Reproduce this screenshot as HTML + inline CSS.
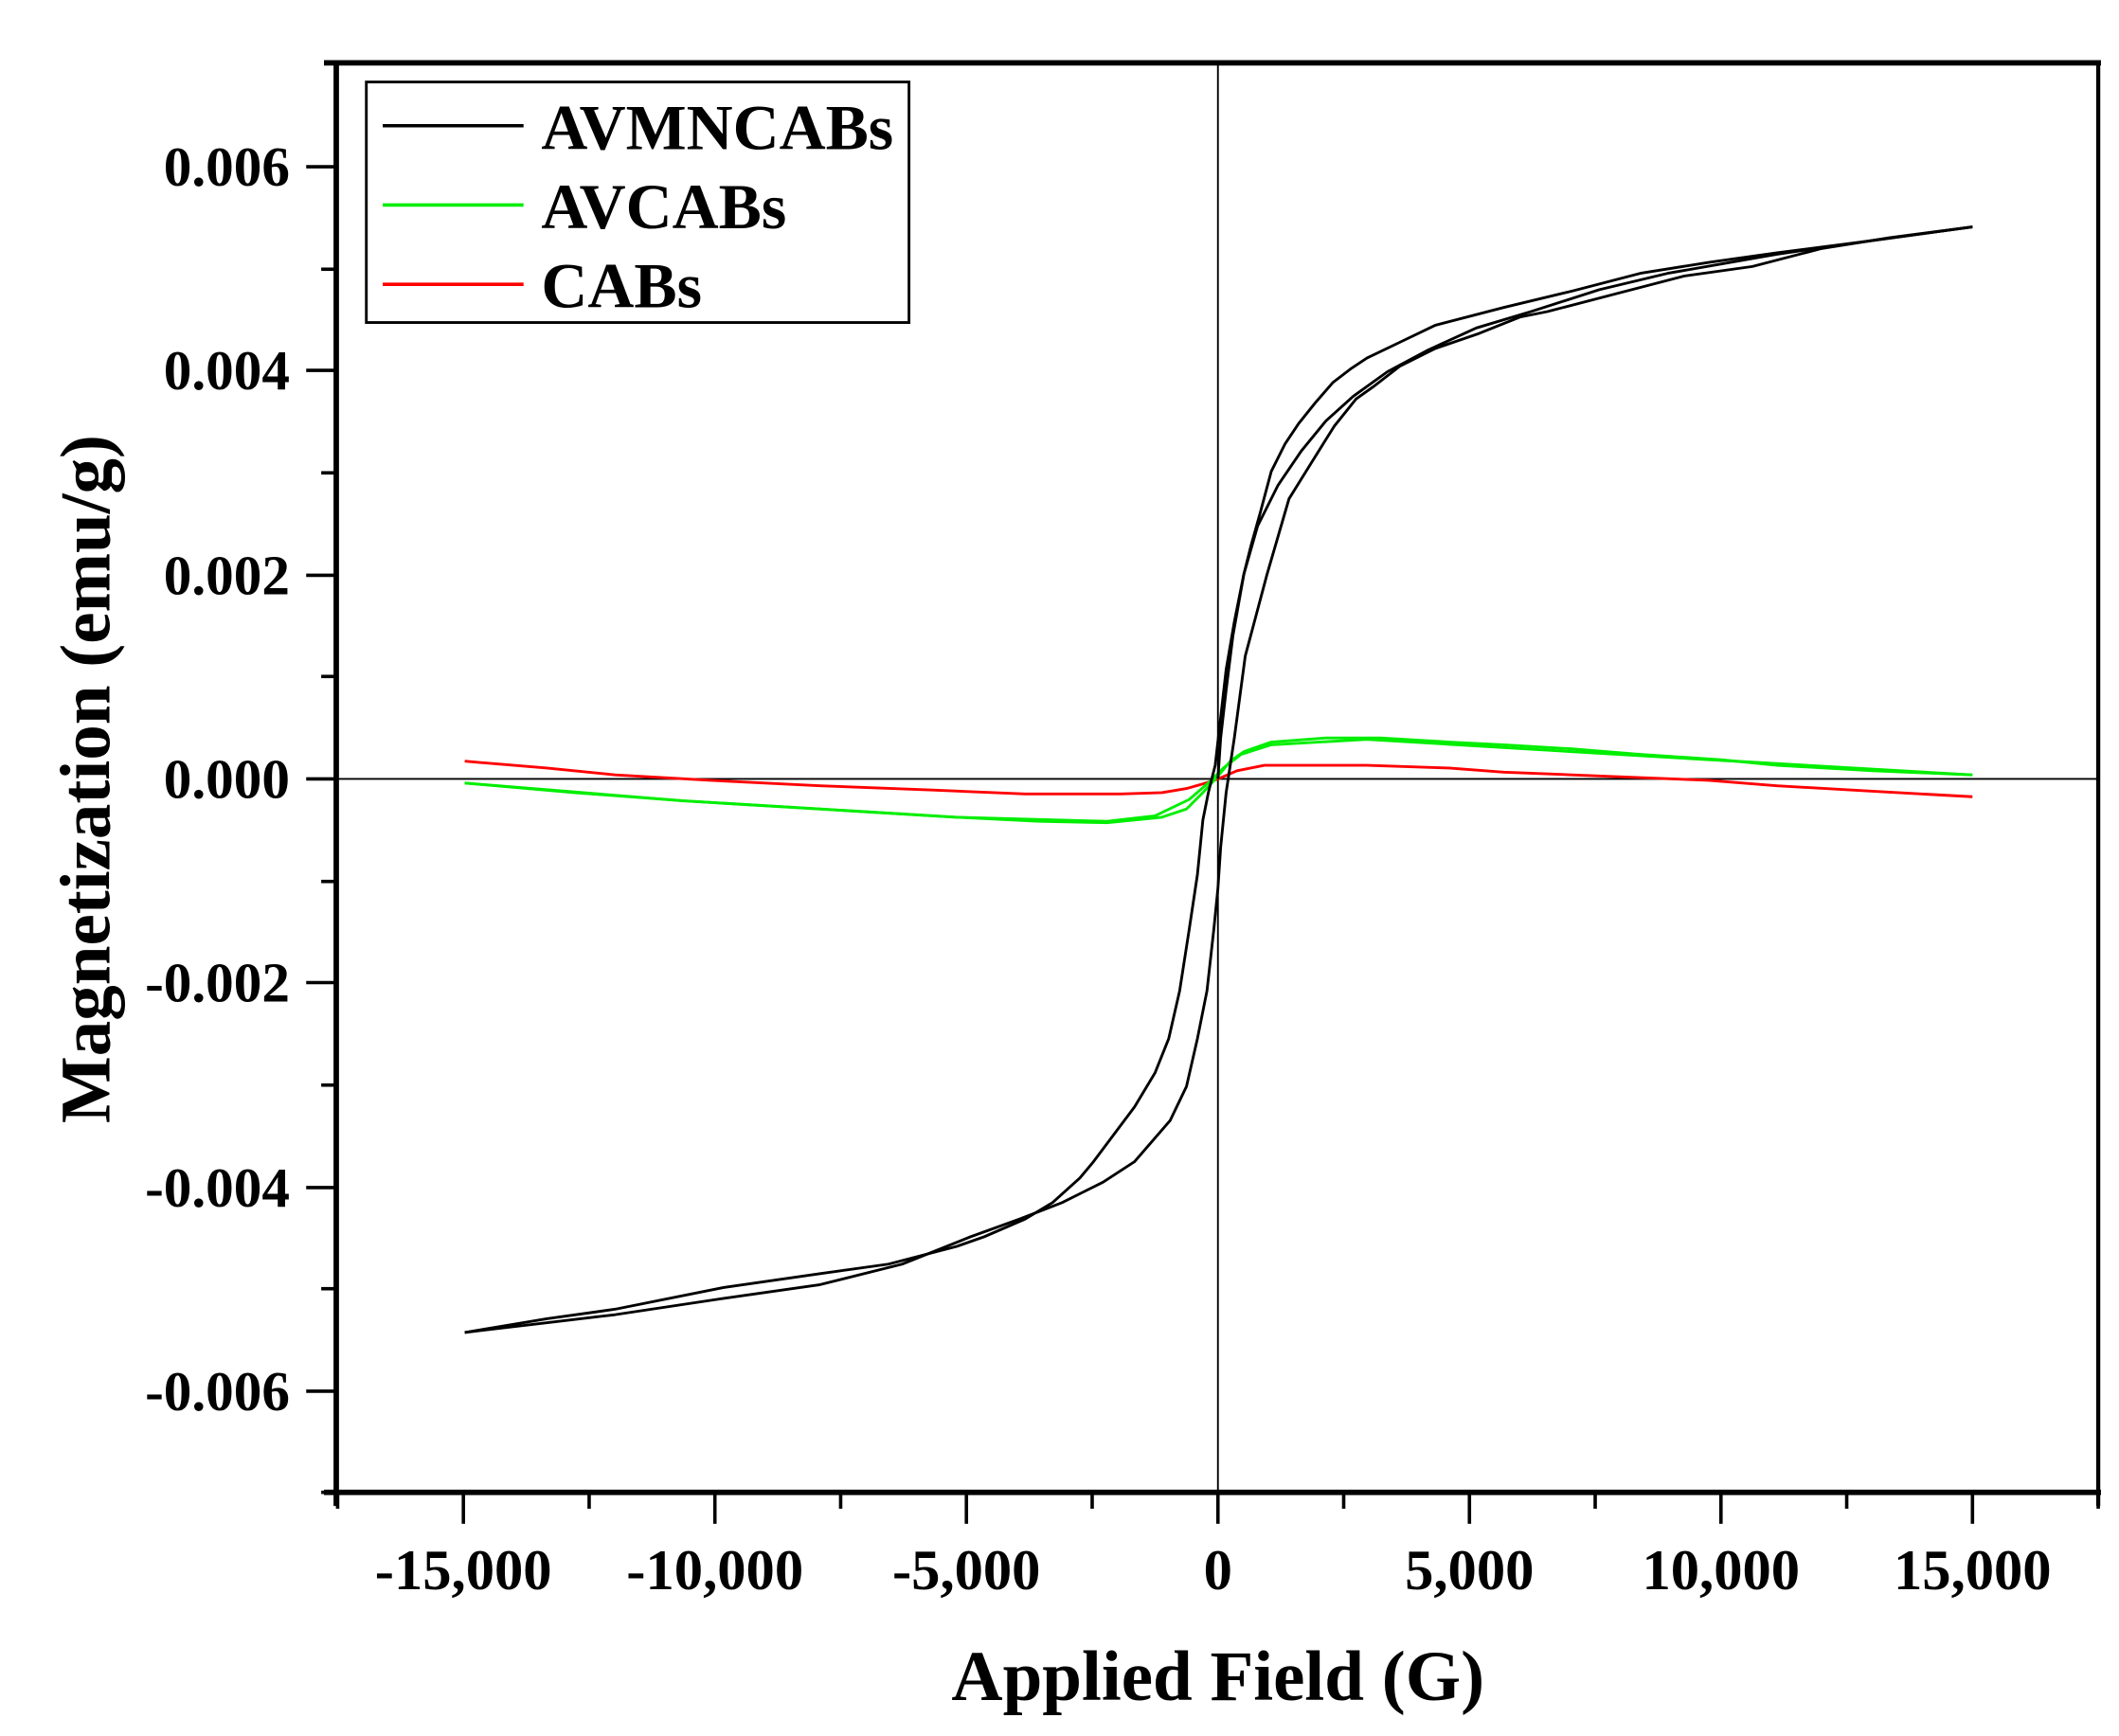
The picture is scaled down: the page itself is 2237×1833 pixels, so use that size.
<!DOCTYPE html>
<html><head><meta charset="utf-8"><style>html,body{margin:0;padding:0;background:#fff}svg{display:block}</style></head>
<body>
<svg width="2237" height="1833" viewBox="0 0 1550.2 1270.3" preserveAspectRatio="none" xmlns="http://www.w3.org/2000/svg" font-family="Liberation Serif, serif" font-weight="bold">
<rect width="1550.2" height="1270.3" fill="#fff"/>
<line x1="246" y1="570" x2="1535" y2="570" stroke="#000" stroke-width="1.3"/>
<line x1="891" y1="46" x2="891" y2="1092" stroke="#000" stroke-width="1.3"/>
<line x1="237" y1="46" x2="1537" y2="46" stroke="#000" stroke-width="4"/>
<line x1="237" y1="1092" x2="1537" y2="1092" stroke="#000" stroke-width="4"/>
<line x1="246" y1="44" x2="246" y2="1102" stroke="#000" stroke-width="4"/>
<line x1="1535" y1="44" x2="1535" y2="1102" stroke="#000" stroke-width="3"/>
<g stroke="#000" stroke-width="2.5">
<line x1="224" y1="122" x2="246" y2="122"/><line x1="224" y1="271" x2="246" y2="271"/><line x1="224" y1="421" x2="246" y2="421"/><line x1="224" y1="570" x2="246" y2="570"/><line x1="224" y1="719" x2="246" y2="719"/><line x1="224" y1="869" x2="246" y2="869"/><line x1="224" y1="1018" x2="246" y2="1018"/>
<line x1="235" y1="197" x2="246" y2="197"/><line x1="235" y1="346" x2="246" y2="346"/><line x1="235" y1="495" x2="246" y2="495"/><line x1="235" y1="645" x2="246" y2="645"/><line x1="235" y1="794" x2="246" y2="794"/><line x1="235" y1="943" x2="246" y2="943"/><line x1="235" y1="1092" x2="246" y2="1092"/>
<line x1="339" y1="1092" x2="339" y2="1115"/><line x1="523" y1="1092" x2="523" y2="1115"/><line x1="707" y1="1092" x2="707" y2="1115"/><line x1="891" y1="1092" x2="891" y2="1115"/><line x1="1075" y1="1092" x2="1075" y2="1115"/><line x1="1259" y1="1092" x2="1259" y2="1115"/><line x1="1443" y1="1092" x2="1443" y2="1115"/>
<line x1="247" y1="1092" x2="247" y2="1104"/><line x1="431" y1="1092" x2="431" y2="1104"/><line x1="615" y1="1092" x2="615" y2="1104"/><line x1="799" y1="1092" x2="799" y2="1104"/><line x1="983" y1="1092" x2="983" y2="1104"/><line x1="1167" y1="1092" x2="1167" y2="1104"/><line x1="1351" y1="1092" x2="1351" y2="1104"/><line x1="1535" y1="1092" x2="1535" y2="1104"/>
</g>
<g font-size="41" text-anchor="end">
<text x="212" y="136">0.006</text><text x="212" y="285">0.004</text><text x="212" y="435">0.002</text><text x="212" y="584">0.000</text><text x="212" y="733">-0.002</text><text x="212" y="883">-0.004</text><text x="212" y="1032">-0.006</text>
</g>
<g font-size="42" text-anchor="middle">
<text x="339" y="1163">-15,000</text><text x="523" y="1163">-10,000</text><text x="707" y="1163">-5,000</text><text x="891" y="1163">0</text><text x="1075" y="1163">5,000</text><text x="1259" y="1163">10,000</text><text x="1443" y="1163">15,000</text>
</g>
<text x="891" y="1244" font-size="52" text-anchor="middle">Applied Field (G)</text>
<text transform="translate(80,570) rotate(-90)" font-size="52" text-anchor="middle">Magnetization (emu/g)</text>
<g fill="none" stroke-width="2" stroke-linejoin="round">
<polyline stroke="#ff0000" points="340,557 400,562 450,567 520,571 600,575 680,578 750,581 820,581 850,580 868,577 882,573 891,570 905,564 925,560 960,560 1000,560 1060,562 1100,565 1150,567 1200,569 1250,571 1300,575 1370,579 1443,583"/>
<polyline stroke="#00ee00" points="340,573 420,580 500,586 600,592 700,598 760,601 810,602 850,598 868,592 880,580 891,568 900,557 910,550 930,543 970,540 1010,540 1060,543 1100,545 1150,548 1200,552 1260,556 1300,560 1370,564 1443,567"/>
<polyline stroke="#00ee00" points="340,573 500,586 700,598 810,601 845,597 870,585 885,572 895,562 908,552 930,545 1000,541 1200,553 1443,567"/>
<polyline stroke="#000" points="340,975 400,965 450,958 530,942 600,932 650,925 700,912 720,905 750,892 770,880 790,862 800,850 815,830 830,810 845,785 855,760 863,725 870,680 876,640 880,600 884,580 889,560 893,525 897,490 903,455 910,420 915,400 922,375 930,345 940,325 950,310 962,295 975,280 988,270 1000,262 1025,250 1050,238 1100,225 1150,213 1200,200 1250,192 1300,185 1370,176 1443,166"/>
<polyline stroke="#000" points="1443,166 1382,174 1332,182 1282,195 1232,202 1182,215 1132,228 1112,232 1082,244 1050,255 1024,268 1006,282 992,292 976,312 961,336 943,365 927,420 911,480 903,540 897,580 893,620 891,650 888,680 883,725 876,760 868,795 856,820 830,850 807,865 777,880 746,892 710,905 660,925 600,940 530,950 450,962 340,975"/>
<polyline stroke="#000" points="891,570 893,540 897,505 902,465 910,420 920,385 935,355 952,330 970,308 990,290 1015,272 1045,256 1080,240 1120,228 1170,212 1220,200 1300,186 1370,176 1443,166"/>
</g>
<rect x="268" y="60" width="397" height="176" fill="#fff" stroke="#000" stroke-width="2"/>
<g stroke-width="2.5">
<line x1="280" y1="92" x2="383" y2="92" stroke="#000"/>
<line x1="280" y1="150" x2="383" y2="150" stroke="#00ee00"/>
<line x1="280" y1="208" x2="383" y2="208" stroke="#ff0000"/>
</g>
<g font-size="47">
<text x="396" y="109">AVMNCABs</text>
<text x="396" y="167">AVCABs</text>
<text x="396" y="225">CABs</text>
</g>
</svg>
</body></html>
